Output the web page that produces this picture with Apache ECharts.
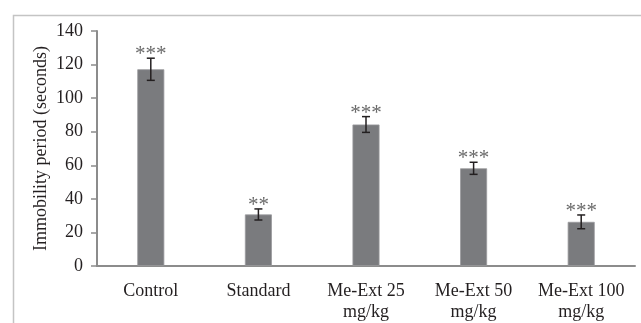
<!DOCTYPE html>
<html>
<head>
<meta charset="utf-8">
<script src="https://cdn.jsdelivr.net/npm/echarts@6/dist/echarts.min.js"></script>
<style>
html,body{margin:0;padding:0;background:#fff;}
#chart{width:641px;height:323px;}
</style>
</head>
<body>
<div id="chart"></div>
<script>
var categories = ['Control', 'Standard', 'Me-Ext 25\nmg/kg', 'Me-Ext 50\nmg/kg', 'Me-Ext 100\nmg/kg'];
var means = [117.2, 30.7, 84.3, 58.2, 26.3];
var errors = [6.6, 3.3, 4.7, 3.6, 4.1];
var stars = ['***', '**', '***', '***', '***'];
var yTicks = [0, 20, 40, 60, 80, 100, 120, 140];

var errData = means.map(function (m, i) { return [i, m - errors[i], m + errors[i], stars[i]]; });

var chart = echarts.init(document.getElementById('chart'), null, {renderer: 'canvas'});
var font = '"Liberation Serif", "Times New Roman", serif';
chart.setOption({
  animation: false,
  backgroundColor: '#fff',
  graphic: [{
    type: 'rect', left: 11, top: 13, z: -10,
    shape: {width: 700, height: 400},
    style: {fill: 'none', stroke: '#c4c4c4', lineWidth: 1.5}
  }],
  grid: {left: 97, right: 6, top: 31, bottom: 55},
  xAxis: {
    type: 'category',
    data: categories,
    axisLine: {lineStyle: {color: '#8c8c8c', width: 2}},
    axisTick: {show: false},
    axisLabel: {interval: 0, color: '#231f20', fontFamily: font, fontSize: 18, margin: 15, lineHeight: 21}
  },
  yAxis: {
    type: 'value', min: yTicks[0], max: yTicks[yTicks.length - 1], interval: 20,
    name: 'Immobility period (seconds)',
    nameLocation: 'middle', nameGap: 47, nameMoveOverlap: false,
    nameTextStyle: {color: '#231f20', fontFamily: font, fontSize: 18},
    axisLine: {show: true, lineStyle: {color: '#8c8c8c', width: 2}},
    axisTick: {show: true, length: 6, lineStyle: {color: '#8c8c8c', width: 1.5}},
    axisLabel: {color: '#231f20', fontFamily: font, fontSize: 18, margin: 14},
    splitLine: {show: false}
  },
  series: [{
    type: 'bar',
    data: means,
    barWidth: 27,
    itemStyle: {color: '#7a7b7e', borderColor: '#9a9b9d', borderWidth: 0.8}
  }, {
    type: 'custom',
    data: errData,
    z: 5,
    renderItem: function (params, api) {
      var lo = api.coord([api.value(0), api.value(1)]);
      var hi = api.coord([api.value(0), api.value(2)]);
      var hw = 4;
      var st = {stroke: '#231f20', lineWidth: 1.5};
      return {
        type: 'group',
        children: [
          {type: 'line', shape: {x1: lo[0], y1: lo[1], x2: hi[0], y2: hi[1]}, style: st},
          {type: 'line', shape: {x1: lo[0] - hw, y1: lo[1], x2: lo[0] + hw, y2: lo[1]}, style: st},
          {type: 'line', shape: {x1: hi[0] - hw, y1: hi[1], x2: hi[0] + hw, y2: hi[1]}, style: st},
          {type: 'text', x: hi[0], y: hi[1] - 14,
            style: {text: stars[params.dataIndex], fill: '#6a6a6a', font: '21px ' + font, align: 'center', verticalAlign: 'top'}}
        ]
      };
    }
  }]
});
</script>
</body>
</html>
